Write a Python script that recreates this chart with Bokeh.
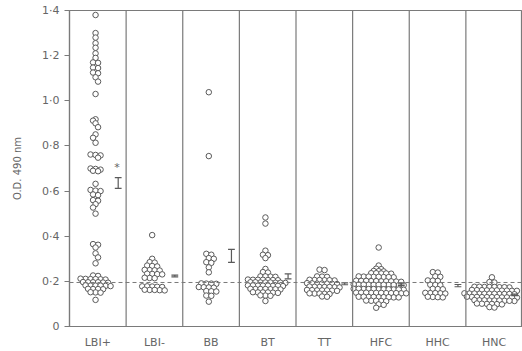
from bokeh.plotting import figure
from bokeh.models import Range1d, FixedTicker, Span
from bokeh.embed import file_html
from bokeh.resources import INLINE
from bokeh.core.properties import value

# ---------------- data ----------------
groups = ["LBI+", "LBI-", "BB", "BT", "TT", "HFC", "HHC", "HNC"]

LBI_plus = [1.38, 1.30, 1.28, 1.255, 1.235, 1.21, 1.19, 1.17, 1.168, 1.147, 1.145, 1.125, 1.122, 1.104, 1.085, 1.03,
            0.918, 0.912, 0.90, 0.883, 0.851, 0.836, 0.814, 0.762, 0.760, 0.758, 0.748, 0.700, 0.698, 0.695, 0.690,
            0.688, 0.632, 0.605, 0.602, 0.600, 0.585, 0.582, 0.560, 0.557, 0.542, 0.527, 0.500,
            0.365, 0.362, 0.35, 0.324, 0.306, 0.280,
            0.226, 0.224, 0.211, 0.210, 0.209, 0.212, 0.208, 0.210, 0.196, 0.195, 0.197, 0.196, 0.194, 0.196,
            0.181, 0.180, 0.182, 0.181, 0.179, 0.181, 0.166, 0.165, 0.167, 0.166, 0.151, 0.150, 0.152, 0.118]

LBI_minus = [0.405, 0.30, 0.285, 0.283, 0.27, 0.268, 0.266, 0.25, 0.251, 0.249, 0.248, 0.233, 0.234, 0.232, 0.231,
             0.215, 0.216, 0.214, 0.178, 0.177, 0.176, 0.178, 0.175, 0.162, 0.163, 0.161, 0.162, 0.160]

BB = [1.038, 0.755, 0.322, 0.318, 0.303, 0.30, 0.285, 0.282, 0.262, 0.240, 0.19, 0.191, 0.189, 0.19,
      0.175, 0.174, 0.173, 0.172, 0.157, 0.156, 0.155, 0.137, 0.136, 0.11]

BT = [0.483, 0.456, 0.336, 0.318, 0.316, 0.303, 0.255, 0.241, 0.239,
      0.222, 0.221, 0.220, 0.222,
      0.207, 0.206, 0.208, 0.207, 0.205, 0.207, 0.206,
      0.195, 0.194, 0.196, 0.195, 0.193, 0.195, 0.196, 0.194,
      0.181, 0.180, 0.182, 0.181, 0.179, 0.181, 0.182, 0.180,
      0.166, 0.165, 0.167, 0.166, 0.164, 0.166, 0.165,
      0.151, 0.150, 0.152, 0.151, 0.149, 0.151,
      0.137, 0.136, 0.138,
      0.113]

TT = [0.252, 0.250,
      0.221, 0.220, 0.222,
      0.206, 0.205, 0.207, 0.204, 0.206, 0.205,
      0.19, 0.191, 0.189, 0.19, 0.192, 0.188, 0.19,
      0.175, 0.176, 0.174, 0.175, 0.177, 0.173, 0.175,
      0.16, 0.161, 0.159, 0.16, 0.162, 0.158, 0.16,
      0.146, 0.145, 0.147, 0.144, 0.146,
      0.133, 0.132]

HFC = [0.35, 0.27, 0.256, 0.254,
       0.246, 0.245, 0.244,
       0.236, 0.235, 0.234, 0.236, 0.235,
       0.221, 0.22, 0.219, 0.222, 0.218, 0.22, 0.221, 0.219,
       0.203, 0.201, 0.2, 0.202, 0.199, 0.2, 0.198, 0.201, 0.2, 0.202,
       0.185, 0.184, 0.186, 0.183, 0.185, 0.187, 0.184, 0.185, 0.186, 0.183, 0.185,
       0.166, 0.165, 0.167, 0.164, 0.166, 0.165, 0.163, 0.166, 0.165, 0.167, 0.164,
       0.149, 0.148, 0.15, 0.147, 0.149, 0.148, 0.15, 0.149, 0.147, 0.148, 0.15,
       0.131, 0.13, 0.132, 0.129, 0.131, 0.13, 0.132, 0.13, 0.129,
       0.114, 0.113, 0.115, 0.112, 0.114,
       0.098, 0.096,
       0.083]

HHC = [0.241, 0.239, 0.222, 0.220, 0.204, 0.203, 0.202, 0.185, 0.184, 0.183, 0.167, 0.166, 0.165,
       0.148, 0.147, 0.149, 0.146, 0.148, 0.131, 0.13, 0.132, 0.129]

HNC = [0.218, 0.197, 0.195,
       0.175, 0.174, 0.176, 0.173, 0.175, 0.174, 0.176, 0.175,
       0.16, 0.159, 0.161, 0.158, 0.16, 0.162, 0.159, 0.16, 0.161, 0.158,
       0.145, 0.144, 0.146, 0.143, 0.145, 0.147, 0.144, 0.145, 0.146, 0.144, 0.145,
       0.13, 0.129, 0.131, 0.128, 0.13, 0.132, 0.129, 0.13, 0.131, 0.129, 0.13,
       0.115, 0.114, 0.116, 0.113, 0.115, 0.117, 0.114, 0.115, 0.116,
       0.1, 0.099, 0.101, 0.098, 0.1, 0.102,
       0.086, 0.084]

group_values = [LBI_plus, LBI_minus, BB, BT, TT, HFC, HHC, HNC]

# mean +/- SE bars
bar_mean = [0.636, 0.224, 0.313, 0.222, 0.189, 0.185, 0.181, 0.140]
bar_se = [0.024, 0.004, 0.029, 0.011, 0.004, 0.004, 0.005, 0.003]

reference_level = 0.195
significant = ["*", "", "", "", "", "", "", ""]

y_ticks = [0.0, 0.2, 0.4, 0.6, 0.8, 1.0, 1.2, 1.4]
y_tick_labels = ["0", "0·2", "0·4", "0·6", "0·8", "1·0", "1·2", "1·4"]

# ---------------- layout ----------------
W, H = 522, 351
B_LEFT, B_RIGHT, B_TOP, B_BOTTOM = 69, 0, 10, 25
X_END = 8.0
Y_END = 1.4
SX = (W - B_LEFT - B_RIGHT) / X_END
SY = (H - B_TOP - B_BOTTOM) / Y_END
STEP = 5.0        # horizontal spacing of dots in a row (px)
ROW_TOL = 0.006   # values closer than this share a row
NEAR = 4.3        # rows closer than this (px) get staggered
DOT_CENTER = 0.46
BAR_POS = 0.86
CAP = 0.06

INK = "#5a5a5a"
LINE = "#7a7a7a"
TEXT = "#666666"


def dot_offsets(vals):
    """Hand-drawn style dot plot: near-equal values share a row, rows are centred and staggered."""
    order = sorted(range(len(vals)), key=lambda k: -vals[k])
    rows = []
    for k in order:
        if rows and vals[rows[-1][0]] - vals[k] <= ROW_TOL:
            rows[-1].append(k)
        else:
            rows.append([k])
    offs = [0.0] * len(vals)
    prev_y, prev_phase = None, None
    flip = 1
    for r in rows:
        n = len(r)
        y = sum(vals[k] for k in r) / n * SY
        phase = 0.0 if n % 2 == 1 else 0.5
        shift = 0.0
        if prev_y is not None and abs(prev_y - y) < NEAR and phase == prev_phase:
            shift = 0.5 * flip
            flip = -flip
            phase = 0.5 - phase
        for j, k in enumerate(r):
            offs[k] = ((j - (n - 1) / 2.0) + shift) * STEP / SX
        prev_y, prev_phase = y, phase
    return offs


xs, ys = [], []
for i, vals in enumerate(group_values):
    offs = dot_offsets(vals)
    for o, v in zip(offs, vals):
        xs.append(i + DOT_CENTER + o)
        ys.append(v)

p = figure(width=W, height=H, x_range=Range1d(0, X_END), y_range=Range1d(0, Y_END),
           output_backend="svg", toolbar_location=None,
           min_border_left=B_LEFT, min_border_right=B_RIGHT,
           min_border_top=B_TOP, min_border_bottom=B_BOTTOM)
p.background_fill_color = "white"
p.border_fill_color = "white"
p.xgrid.visible = False
p.ygrid.visible = False
p.outline_line_color = LINE
p.outline_line_width = 1.2

# column dividers
for k in range(1, len(groups)):
    p.add_layout(Span(location=k, dimension="height", line_color=LINE, line_width=1.2))

# dashed reference level
p.add_layout(Span(location=reference_level, dimension="width", line_color=LINE,
                  line_width=1, line_dash="4 3"))

# dots
p.scatter(xs, ys, marker="circle", size=5.5, fill_color="white", line_color=INK, line_width=1)

# mean +/- SE bars
bx = [i + BAR_POS for i in range(len(groups))]
lo = [m - s for m, s in zip(bar_mean, bar_se)]
hi = [m + s for m, s in zip(bar_mean, bar_se)]
p.segment(bx, lo, bx, hi, line_color=INK, line_width=1.2)
p.segment([x - CAP for x in bx], lo, [x + CAP for x in bx], lo, line_color=INK, line_width=1.2)
p.segment([x - CAP for x in bx], hi, [x + CAP for x in bx], hi, line_color=INK, line_width=1.2)
p.text([x - 0.02 for x in bx], [h + 0.015 for h in hi], text=significant,
       text_font=value("DejaVu Sans"), text_font_size=value("11px"), text_color=value(TEXT),
       text_align="center", text_baseline="bottom")

# axes
p.xaxis.ticker = FixedTicker(ticks=[i + 0.5 for i in range(len(groups))])
p.xaxis.major_label_overrides = {i + 0.5: g for i, g in enumerate(groups)}
p.xaxis.major_tick_line_color = None
p.xaxis.major_tick_out = 0
p.xaxis.major_tick_in = 0
p.xaxis.minor_tick_line_color = None
p.xaxis.axis_line_color = LINE
p.xaxis.axis_line_width = 1.2
p.xaxis.major_label_standoff = 9
p.xaxis.major_label_text_font = "DejaVu Sans"
p.xaxis.major_label_text_font_size = "11px"
p.xaxis.major_label_text_color = TEXT

p.yaxis.ticker = FixedTicker(ticks=y_ticks)
p.yaxis.major_label_overrides = {t: l for t, l in zip(y_ticks, y_tick_labels)}
p.yaxis.minor_tick_line_color = None
p.yaxis.major_tick_in = 0
p.yaxis.major_tick_out = 5
p.yaxis.major_tick_line_color = LINE
p.yaxis.axis_line_color = LINE
p.yaxis.axis_line_width = 1.2
p.yaxis.major_label_standoff = 5
p.yaxis.major_label_text_font = "DejaVu Sans"
p.yaxis.major_label_text_font_size = "11px"
p.yaxis.major_label_text_color = TEXT
p.yaxis.axis_label = "O.D. 490 nm"
p.yaxis.axis_label_text_font = "DejaVu Sans"
p.yaxis.axis_label_text_font_size = "10px"
p.yaxis.axis_label_text_font_style = "normal"
p.yaxis.axis_label_text_color = TEXT
p.yaxis.axis_label_standoff = 16

open("out.html", "w").write(file_html(p, INLINE))
